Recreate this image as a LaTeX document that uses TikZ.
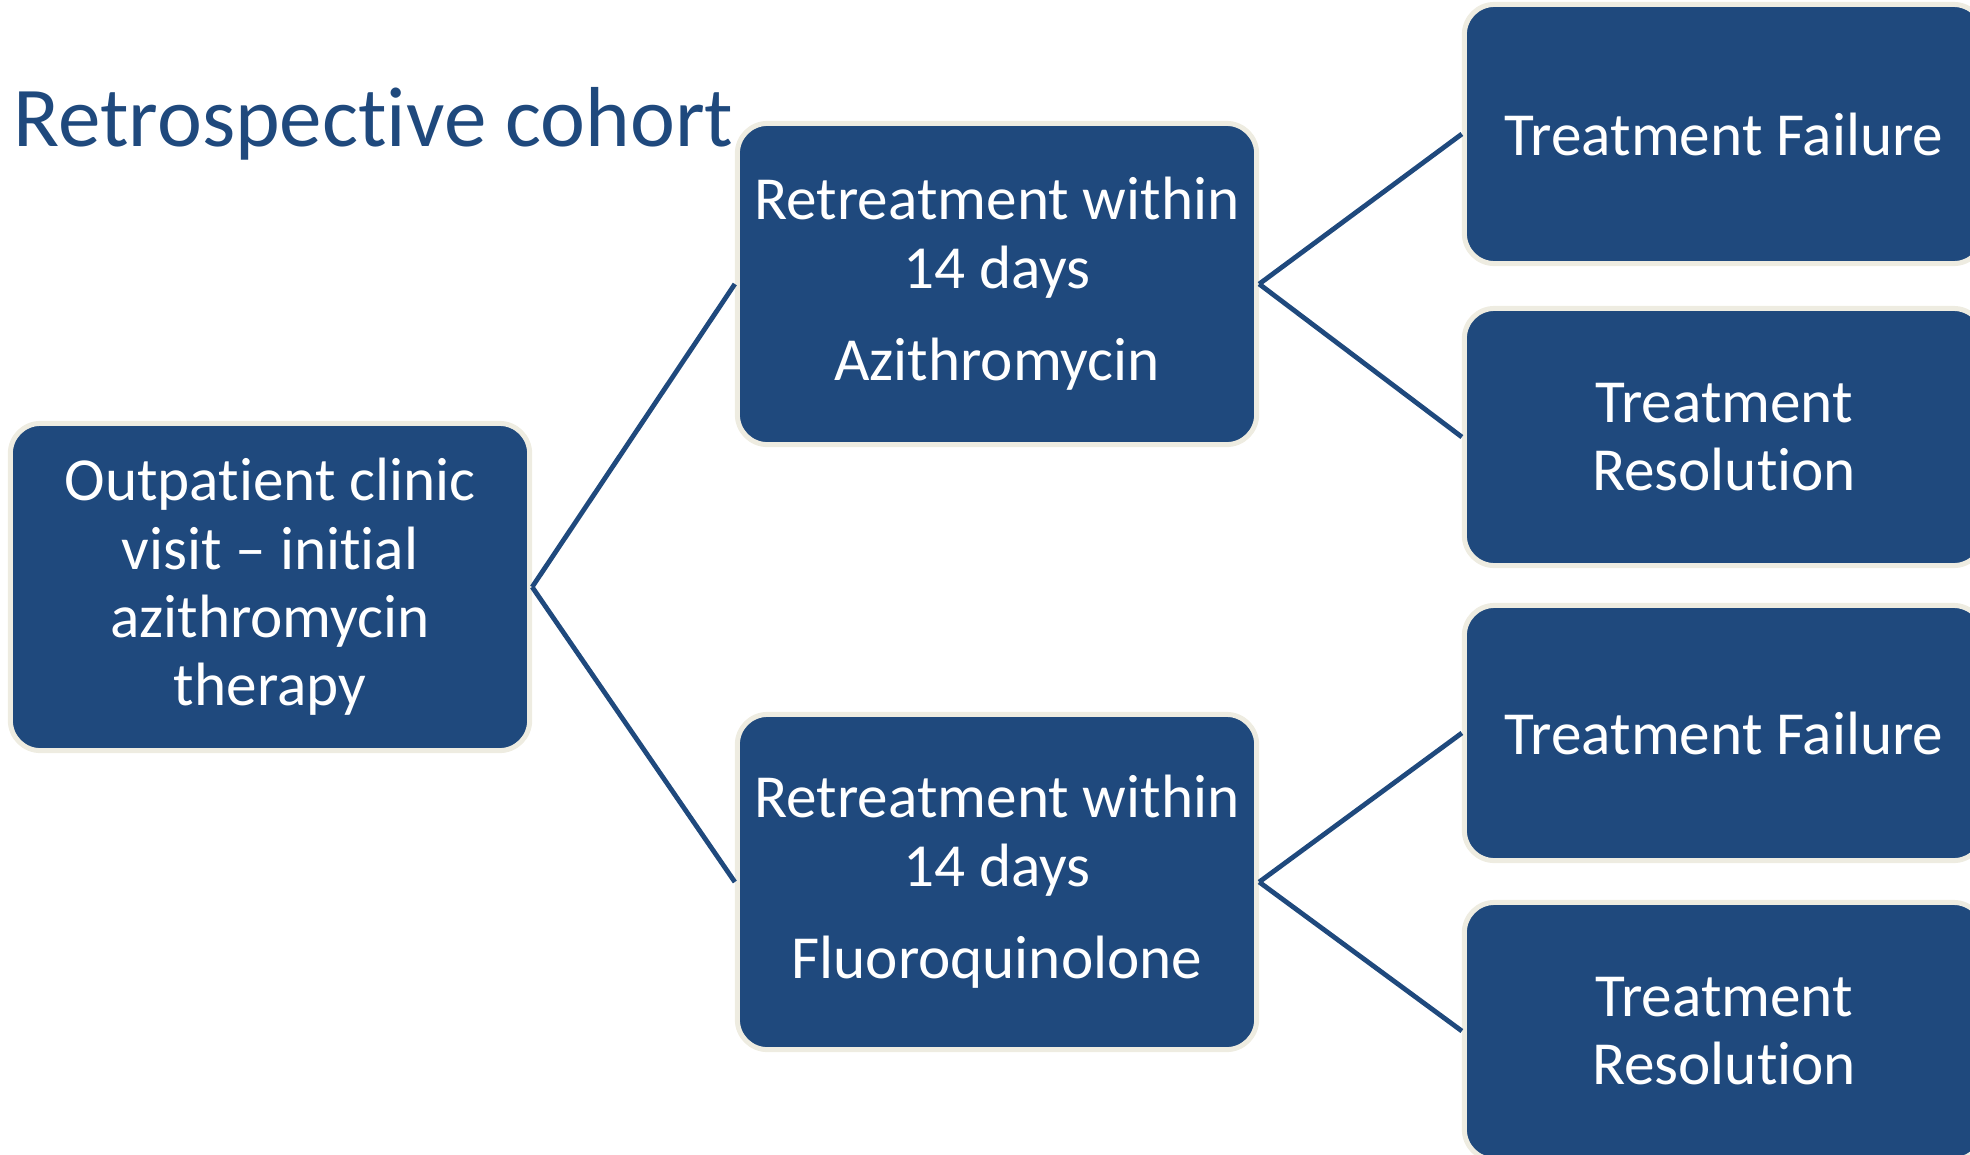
\documentclass[tikz,border=0pt]{standalone}
\usepackage{fontspec}
\setmainfont{Carlito}
\definecolor{boxblue}{HTML}{1F497D}
\definecolor{boxrim}{HTML}{EEECE1}
\begin{document}
\begin{tikzpicture}[x=0.01cm,y=-0.01cm,
  stage/.style={draw=boxrim,line width=0.05cm,fill=boxblue,rounded corners=0.3cm,
    text=white,align=center,minimum width=5.19cm,font=\fontsize{17.4}{19.4}\selectfont},
  link/.style={draw=boxblue,line width=0.048cm}]
\useasboundingbox (0,0) rectangle (1970,1154);
% Title
\node[anchor=base west,inner sep=0pt,text=boxblue,font=\fontsize{24.2}{28}\selectfont] (title) at (13,146) {Retrospect\kern0pt ive cohort};
% Boxes
\node[stage,minimum height=3.27cm] (visit) at (270,587) {Outpat\kern0pt ient clinic\\visit – init\kern0pt ial\\azithromycin\\therapy};
\node[stage,minimum height=3.21cm] (azi) at (997,284) {Retreatment within\\14 days\\[7pt]Azithromycin};
\node[stage,minimum height=3.35cm] (fluoro) at (997,882) {Retreatment within\\14 days\\[7pt]Fluoroquinolone};
\node[stage,minimum height=2.59cm] (aziFail) at (1724,134) {Treatment Failure};
\node[stage,minimum height=2.57cm] (aziRes) at (1724,437) {Treatment\\Resolut\kern0pt ion};
\node[stage,minimum height=2.55cm] (fluoroFail) at (1724,733) {Treatment Failure};
\node[stage,minimum height=2.57cm] (fluoroRes) at (1724,1031) {Treatment\\Resolut\kern0pt ion};
% Connectors
\path[link] (visit.east) -- (azi.west) (visit.east) -- (fluoro.west);
\path[link] (azi.east) -- (aziFail.west) (azi.east) -- (aziRes.west);
\path[link] (fluoro.east) -- (fluoroFail.west) (fluoro.east) -- (fluoroRes.west);
\end{tikzpicture}
\end{document}
